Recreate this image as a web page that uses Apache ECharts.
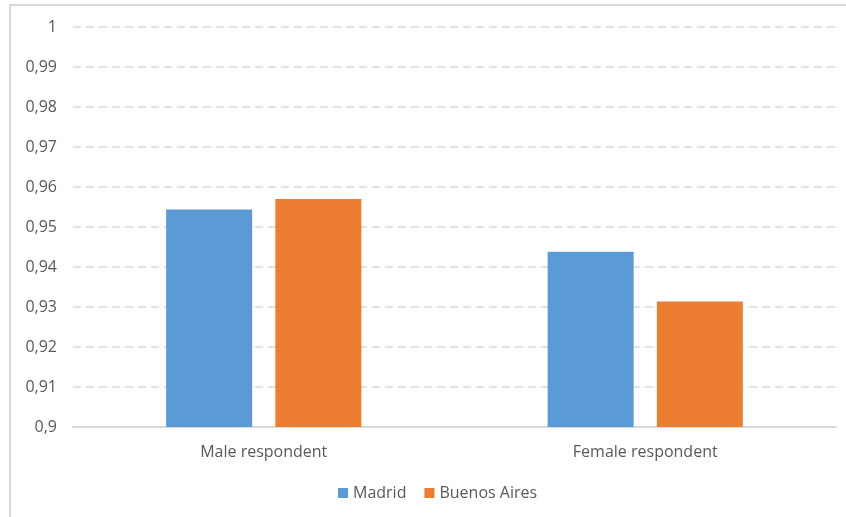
<!DOCTYPE html>
<html>
<head>
<meta charset="utf-8">
<script src="https://cdn.jsdelivr.net/npm/echarts@6/dist/echarts.min.js"></script>
<style>
  html, body { margin: 0; padding: 0; background: #fff; }
  #chart { width: 846px; height: 517px; }
  #frame { position: absolute; left: 9px; top: 4px; width: 840px; height: 520px;
           border-top: 2px solid #d9d9d9; border-left: 2px solid #d9d9d9; pointer-events: none; }
</style>
</head>
<body>
<div id="chart"></div>
<div id="frame"></div>
<script>
const categories = ["Male respondent", "Female respondent"];
const madrid = [0.9544, 0.9438];
const buenosAires = [0.957, 0.9314];

const chart = echarts.init(document.getElementById("chart"));

const fontFamily = "'Open Sans', 'Noto Sans', sans-serif";

const option = {
  animation: false,
  textStyle: { fontFamily: fontFamily },
  grid: { left: 73, right: 10, top: 27, bottom: 90, containLabel: false },
  legend: {
    data: ["Madrid", "Buenos Aires"],
    bottom: 11,
    left: 333,
    itemWidth: 10,
    itemHeight: 10,
    itemGap: 18,
    icon: "rect",
    textStyle: { color: "#595959", fontSize: 16, fontFamily: fontFamily },
  },
  xAxis: {
    type: "category",
    data: categories,
    axisLine: { lineStyle: { color: "#d9d9d9", width: 2 } },
    axisTick: { show: false },
    axisLabel: { color: "#595959", fontSize: 16, margin: 17, fontFamily: fontFamily },
  },
  yAxis: {
    type: "value",
    min: 0.9,
    max: 1,
    interval: 0.01,
    axisLine: { show: false },
    axisTick: { show: false },
    axisLabel: {
      color: "#595959",
      fontSize: 16,
      margin: 16,
      fontFamily: fontFamily,
      formatter: function (v) {
        return String(Math.round(v * 100) / 100).replace(".", ",");
      },
    },
    splitLine: {
      lineStyle: { color: "#d9d9d9", width: 1.5, type: [8, 5] },
    },
  },
  series: [
    {
      name: "Madrid",
      type: "bar",
      data: madrid,
      barWidth: 86,
      barGap: "27%",
      itemStyle: { color: "#5b9bd5" },
    },
    {
      name: "Buenos Aires",
      type: "bar",
      data: buenosAires,
      barWidth: 86,
      itemStyle: { color: "#ed7d31" },
    },
  ],
};

chart.setOption(option);
</script>
</body>
</html>
